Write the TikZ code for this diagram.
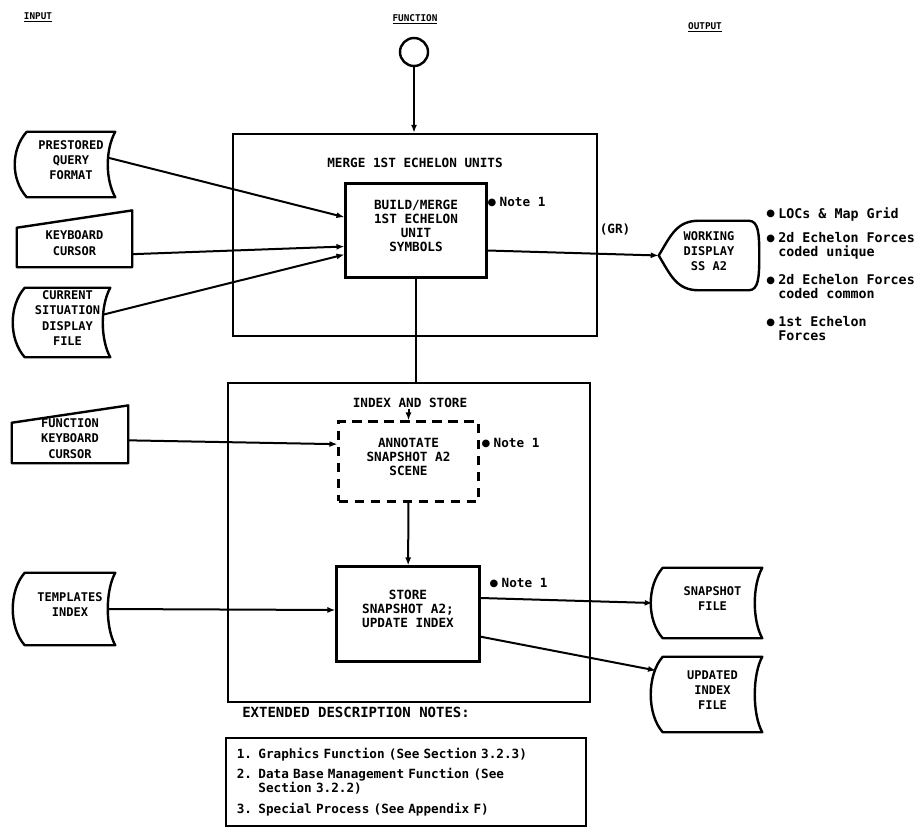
\documentclass[tikz,border=0pt]{standalone}
\usepackage{fontspec}
\setmonofont{DejaVu Sans Mono}
\newfontfamily\symf{DejaVu Sans}
\usetikzlibrary{fit,arrows.meta}
\newcommand\bdot{\raisebox{1pt}{\symf\fontsize{7.5}{7.5}\selectfont ●}\hspace{2.5pt}}
\newcommand\storedshape[1]{\draw[ln] (#1.north west) .. controls +(-16,18) and +(-16,-18) .. (#1.south west) -- (#1.south east) .. controls +(-10,-18) and +(-10,18) .. (#1.north east) -- cycle;}
\newcommand\manualshape[1]{\draw[ln] (#1.south west) -- (#1.north west) -- ([yshift=13pt]#1.north east) -- (#1.south east) -- cycle;}
\begin{document}
\begin{tikzpicture}[x=0.75pt,y=-0.75pt,
  ln/.style={line width=1.8pt, line join=round},
  box/.style={draw, line width=1.8pt, inner sep=0pt},
  hdr/.style={font=\fontsize{7}{7.5}\selectfont\ttfamily\bfseries},
  shp/.style={inner sep=0pt, align=center, font=\fontsize{9}{11.5}\selectfont\ttfamily\bfseries},
  txt/.style={align=center, inner sep=1pt, font=\fontsize{9.5}{10.5}\selectfont\ttfamily\bfseries},
  bul/.style={align=left, inner sep=0pt, anchor=north west, font=\fontsize{10}{10.3}\selectfont\ttfamily\bfseries},
  arr/.style={line width=1.5pt, -{Latex[length=6pt,width=4.5pt]}},
  con/.style={line width=1.5pt}]
\useasboundingbox (0,0) rectangle (920,832);

% headers
\node[hdr] (hin) at (38,17) {\underline{INPUT}};
\node[hdr] (hfn) at (415,19) {\underline{FUNCTION}};
\node[hdr] (hout) at (705,27) {\underline{OUTPUT}};

% start connector
\node[draw, circle, ln, minimum size=21pt, inner sep=0pt] (start) at (414,52) {};

% function boxes
\node[box, fit={(233,134) (597,336)}] (merge) {};
\node[box, fit={(228,383) (590,702)}] (indexbox) {};
\node[box, txt, fit={(347,185) (485,276)}] (build) {BUILD/MERGE\\1ST ECHELON\\UNIT\\SYMBOLS};
\node[txt, draw, line width=1.8pt, dash pattern=on 7pt off 5pt, fit={(340,423) (477,500)}] (annotate) {ANNOTATE\\SNAPSHOT A2\\SCENE};
\node[box, txt, fit={(338,568) (478,660)}] (store) {STORE\\SNAPSHOT A2;\\UPDATE INDEX};

% inputs
\node[shp, fit={(27,132) (115,197)}] (prestored) {PRESTORED\\QUERY\\FORMAT};
\storedshape{prestored}
\node[shp, fit={(17,228) (132,267)}] (keyboard) {KEYBOARD\\CURSOR};
\manualshape{keyboard}
\node[shp, fit={(25,288) (110,357)}] (current) {CURRENT\\SITUATION\\DISPLAY\\FILE};
\storedshape{current}
\node[shp, fit={(12,423) (128,463)}] (fkeyboard) {FUNCTION\\KEYBOARD\\CURSOR};
\manualshape{fkeyboard}
\node[shp, fit={(25,573) (115,645)}] (templates) {TEMPLATES\\INDEX};
\storedshape{templates}

% outputs
\node[shp, fit={(659,221) (759,290)}] (display) {WORKING\\DISPLAY\\SS A2};
\draw[ln] (display.west) .. controls +(12,-20) and +(-22,0) .. ([xshift=30pt]display.north west) -- ([xshift=-8pt]display.north east) .. controls +(10,0) and +(0,-22) .. (display.east) .. controls +(0,22) and +(10,0) .. ([xshift=-8pt]display.south east) -- ([xshift=30pt]display.south west) .. controls +(-22,0) and +(12,20) .. (display.west) -- cycle;
\node[shp, fit={(663,568) (762,638)}] (snapshot) {SNAPSHOT\\FILE};
\storedshape{snapshot}
\node[shp, fit={(663,657) (762,732)}] (updated) {UPDATED\\INDEX\\FILE};
\storedshape{updated}

% connectors
\draw[arr] (start) -- (start.south |- merge.north);
\draw[arr] ([xshift=-5pt,yshift=5pt]prestored.east) -- ([yshift=10pt]build.west);
\draw[arr] ([yshift=-5pt]keyboard.east) -- ([yshift=-12pt]build.west);
\draw[arr] ([xshift=-5pt,yshift=6pt]current.east) -- ([yshift=-18pt]build.west);
\draw[arr] ([yshift=-15pt]build.east) -- (display.west);
\draw[con] (build.south) -- (build.south |- indexbox.north);
\draw[arr] ([yshift=2pt]fkeyboard.east) -- ([yshift=13pt]annotate.west);
\draw[arr] (annotate) -- (store);
\draw[arr] ([xshift=-5pt]templates.east) -- ([yshift=3pt]store.west);
\draw[arr] ([yshift=12pt]store.east) -- ([xshift=-7.5pt]snapshot.west);
\draw[arr] ([yshift=-17pt]store.east) -- ([xshift=-5pt,yshift=18pt]updated.west);

% titles and labels
\node[txt] (mtitle) at (415,163) {MERGE 1ST ECHELON UNITS};
\node[txt, fill=white] (istitle) at (410,403) {INDEX AND STORE};
\draw[arr] (istitle.south -| annotate.north) -- (annotate.north);
\node[txt, anchor=west] (note1) at (486,202) {\bdot Note 1};
\node[txt, anchor=west] (note2) at (480,443) {\bdot Note 1};
\node[txt, anchor=west] (note3) at (488,583) {\bdot Note 1};
\node[txt] (gr) at (615,230) {(GR)};

\node[bul] (b1) at (766,207) {\bdot LOCs \& Map Grid};
\node[bul] (b2) at (766,232) {\bdot 2d Echelon Forces\\\phantom{\bdot}coded unique};
\node[bul] (b3) at (766,274) {\bdot 2d Echelon Forces\\\phantom{\bdot}coded common};
\node[bul] (b4) at (766,316) {\bdot 1st Echelon\\\phantom{\bdot}Forces};

% notes
\node[anchor=west, inner sep=0pt, font=\fontsize{10.5}{11}\selectfont\ttfamily\bfseries] (ntitle) at (242,712) {EXTENDED DESCRIPTION NOTES:};
\node[box, anchor=north west, minimum width=270pt, minimum height=66pt, inner xsep=8pt, text width=254pt, align=left, font=\fontsize{9.5}{10}\selectfont\ttfamily\bfseries] (notes) at (225,737) {1. Graphics Function (See Section 3.2.3)\\[5pt]2. Data Base Management Function (See\\\phantom{2. }Section 3.2.2)\\[6pt]3. Special Process (See Appendix F)};
\end{tikzpicture}
\end{document}
